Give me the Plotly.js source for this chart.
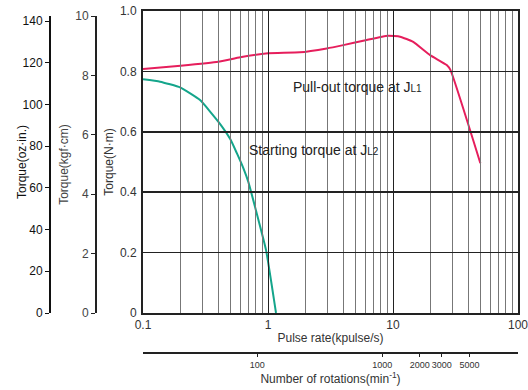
<!DOCTYPE html>
<html><head><meta charset="utf-8">
<script src="https://cdn.plot.ly/plotly-3.0.1.min.js"></script>
<style>html,body{margin:0;padding:0;background:#fff}#chart{width:528px;height:390px}</style>
</head><body><div id="chart"></div>
<script>
// Pull-out torque at JL1 (N·m) vs pulse rate (kpulse/s)
const pulloutX = [0.1, 0.2, 0.4, 0.6, 1.0, 1.8, 2.95, 4.0, 6.16, 9.1, 11.4, 14.5, 19.8, 26.9, 28.8, 50];
const pulloutY = [0.808, 0.819, 0.832, 0.847, 0.86, 0.863, 0.876, 0.887, 0.904, 0.918, 0.915, 0.898, 0.854, 0.821, 0.805, 0.496];
// Starting torque at JL2
const startX = [0.1, 0.137, 0.198, 0.286, 0.41, 0.5, 0.562, 0.636, 0.695, 0.787, 0.964, 1.159];
const startY = [0.774, 0.766, 0.747, 0.705, 0.628, 0.575, 0.53, 0.479, 0.435, 0.352, 0.209, 0.0];

const pulseTicks = [0.1, 1, 10, 100];
const pulseLabels = ['0.1', '1', '10', '100'];
const pulseMinor = [0.2,0.3,0.4,0.5,0.6,0.7,0.8,0.9,2,3,4,5,6,7,8,9,20,30,40,50,60,70,80,90];
const nmTicks = [0, 0.2, 0.4, 0.6, 0.8, 1.0];
const nmLabels = ['0', '0.2', '0.4', '0.6', '0.8', '1.0'];
const kgfTicks = [0, 2, 4, 6, 8, 10];
const ozTicks = [0, 20, 40, 60, 80, 100, 120, 140];
const rpmTicks = [100, 1000, 2000, 3000, 5000];
const rpmLabels = ['100', '1000', '2000', '3000', '5000'];

const W = 528, H = 390, L = 10, R = 10, T = 11, B = 10;
const pw = W - L - R, ph = H - T - B;
const px = x => (x - L) / pw;
const py = y => (H - B - y) / ph;

const FONT = 'Liberation Sans, Arial, Helvetica, sans-serif';

// invisible helper traces so that the extra axes get drawn
const holder = (xa, ya, xv, yv) => ({x: [xv], y: [yv], xaxis: xa, yaxis: ya, mode: 'none', hoverinfo: 'skip', showlegend: false});

const traces = [
  holder('x', 'y2', pulseTicks[1], kgfTicks[0]),
  holder('x', 'y3', pulseTicks[1], ozTicks[0]),
  holder('x2', 'y', rpmTicks[0], nmTicks[0]),
  {x: pulloutX, y: pulloutY, xaxis: 'x', yaxis: 'y', mode: 'lines', line: {color: '#e61e5c', width: 2, shape: 'spline', smoothing: 0.4}, hoverinfo: 'skip', showlegend: false},
  {x: startX, y: startY, xaxis: 'x', yaxis: 'y', mode: 'lines', line: {color: '#14a58b', width: 2, shape: 'spline', smoothing: 0.4}, hoverinfo: 'skip', showlegend: false}
];

const layout = {
  width: W, height: H,
  margin: {l: L, r: R, t: T, b: B},
  paper_bgcolor: '#fff', plot_bgcolor: 'rgba(0,0,0,0)',
  font: {family: FONT, size: 12, color: '#333'},
  showlegend: false,
  xaxis: {
    type: 'log', range: [-1, 2], domain: [px(143), 1], anchor: 'y',
    tickmode: 'array', tickvals: pulseTicks, ticktext: pulseLabels, ticklabeloverflow: 'allow',
    showgrid: true, gridcolor: '#222', gridwidth: 1,
    minor: {tickmode: 'array', tickvals: pulseMinor, showgrid: true, gridcolor: '#777', gridwidth: 1.2, ticks: ''},
    showline: true, mirror: true, linecolor: '#222', linewidth: 2,
    ticks: '', zeroline: false,
    tickfont: {size: 12, color: '#333'},
    title: {text: 'Pulse rate(kpulse/s)', font: {size: 12, color: '#333'}, standoff: 2}
  },
  xaxis2: {
    type: 'log', range: [Math.log10(12.2), Math.log10(12200)], domain: [px(143), 1],
    anchor: 'free', position: py(352.7),
    tickmode: 'array', tickvals: rpmTicks, ticktext: rpmLabels, tickangle: 0,
    ticks: 'outside', ticklen: 3, tickcolor: '#222', tickwidth: 1,
    showline: true, linecolor: '#222', linewidth: 2, showgrid: false, zeroline: false,
    tickfont: {size: 9, color: '#333'},
    title: {text: 'Number of rotations(min<sup>-1</sup>)', font: {size: 12, color: '#333'}, standoff: 5}
  },
  yaxis: {
    range: [0, 1], domain: [py(313), 1], anchor: 'x',
    tickmode: 'array', tickvals: nmTicks, ticktext: nmLabels,
    showgrid: true, gridcolor: '#222', gridwidth: 1.6, zeroline: false,
    showline: true, mirror: true, linecolor: '#222', linewidth: 2,
    ticks: 'outside', ticklen: 2, tickcolor: 'rgba(0,0,0,0)',
    tickfont: {size: 12, color: '#333'},
    title: {text: 'Torque(N·m)', font: {size: 12, color: '#333'}, standoff: 4}
  },
  yaxis2: {
    range: [0, 10], domain: [py(313), py(16)], anchor: 'free', position: px(95),
    tickmode: 'array', tickvals: kgfTicks,
    showgrid: false, zeroline: false,
    showline: true, linecolor: '#222', linewidth: 1.5,
    ticks: 'outside', ticklen: 4, tickcolor: '#222', tickwidth: 1,
    tickfont: {size: 12, color: '#444'},
    title: {text: 'Torque(kgf·cm)', font: {size: 12, color: '#444'}, standoff: 2}
  },
  yaxis3: {
    range: [0, 142.4], domain: [py(313), py(16)], anchor: 'free', position: px(49),
    tickmode: 'array', tickvals: ozTicks,
    showgrid: false, zeroline: false,
    showline: true, linecolor: '#111', linewidth: 1.5,
    ticks: 'outside', ticklen: 4, tickcolor: '#111', tickwidth: 1,
    tickfont: {size: 12, color: '#111'}
  },
  annotations: [
    {xref: 'paper', yref: 'paper', x: px(22), y: py(162), text: 'Torque(oz·in.)', textangle: -90,
     showarrow: false, font: {size: 12, color: '#111'}, xanchor: 'center', yanchor: 'middle'},
    {xref: 'paper', yref: 'paper', x: px(291), y: py(87), xanchor: 'left', yanchor: 'middle', showarrow: false,
     text: 'Pull-out torque at J<span style="font-size:10px">L1</span>', font: {size: 14, color: '#222'}},
    {xref: 'paper', yref: 'paper', x: px(247), y: py(150), xanchor: 'left', yanchor: 'middle', showarrow: false,
     text: 'Starting torque at J<span style="font-size:10px">L2</span>', font: {size: 14, color: '#222'}}
  ]
};

Plotly.newPlot('chart', traces, layout, {staticPlot: true, displayModeBar: false});
</script></body></html>
